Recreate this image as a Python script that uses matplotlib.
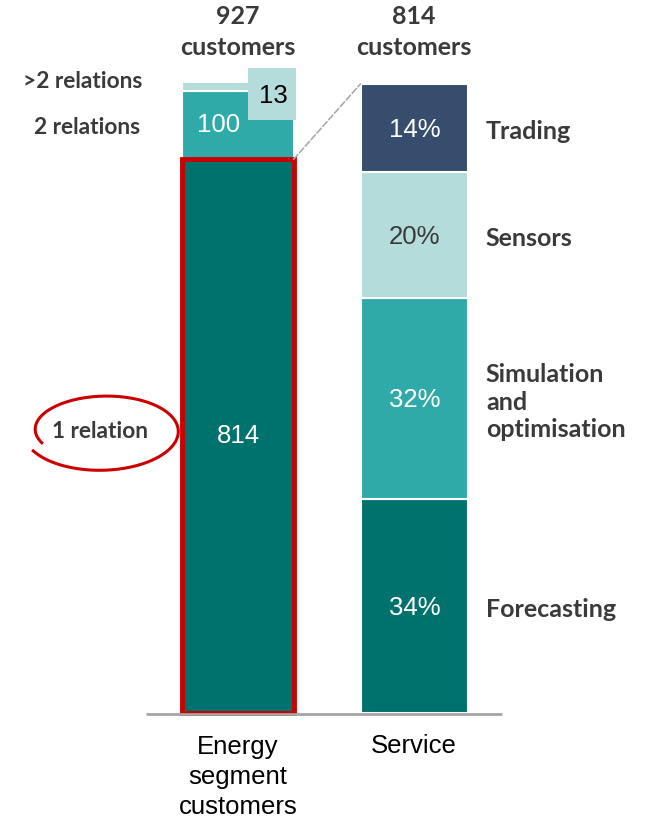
"""
Energy segment customers by number of relations, and service split
"""
import numpy as np
import matplotlib.pyplot as plt
from matplotlib.patches import Rectangle, ConnectionPatch

# left bar: customers by number of relations (bottom to top)
relation_labels = ['1 relation', '2 relations', '>2 relations']
relation_counts = [814, 100, 13]

# right bar: service share of the 814 single-relation customers (bottom to top)
service_labels = ['Forecasting', 'Simulation\nand\noptimisation', 'Sensors', 'Trading']
service_shares = [34, 32, 20, 14]

bar_names = ['Energy\nsegment\ncustomers', 'Service']
totals = ['927\ncustomers', '814\ncustomers']

DARK = '#00726E'
MID = '#2FAAA9'
LIGHT = '#B3DCDB'
NAVY = '#374D6E'
GREY_TXT = '#3A3A3A'
RED = '#CC0000'

LEFT_COLORS = [DARK, MID, LIGHT]
RIGHT_COLORS = [DARK, MID, LIGHT, NAVY]
RIGHT_TXT = ['white', 'white', GREY_TXT, 'white']

BOLD = dict(family='Lato', weight='bold', color=GREY_TXT, fontsize=18)
SMALL_BOLD = dict(BOLD, fontsize=16.3)
ARIAL = dict(family='Liberation Sans')
NUM_SIZE = 18.5

W, H = 649, 822
BAR_W = 0.63


def main():
    fig = plt.figure(figsize=(W / 100, H / 100), dpi=100)
    ax = fig.add_axes([146 / W, 109 / H, 356 / W, 653 / H])
    ax2 = ax.twinx()
    for a in (ax, ax2):
        a.set_xlim(-0.521, 1.496)
        a.axis('off')
    ax.set_ylim(0, 960)
    ax2.set_ylim(0, 103.8)

    # left stacked bar
    bottom = 0
    for val, col in zip(relation_counts, LEFT_COLORS):
        ax.bar(0, val, BAR_W, bottom=bottom, color=col, edgecolor='white', linewidth=1.5)
        bottom += val
    ax.text(0, relation_counts[0] / 2, str(relation_counts[0]), ha='center', va='center',
            color='white', fontsize=NUM_SIZE, **ARIAL)
    ax.text(-0.11, relation_counts[0] + relation_counts[1] / 2, str(relation_counts[1]),
            ha='center', va='center', color='white', fontsize=NUM_SIZE, **ARIAL)

    # red highlight around the single-relation block
    ax.add_patch(Rectangle((-BAR_W / 2, 0), BAR_W, relation_counts[0], fill=False,
                           edgecolor=RED, linewidth=3.5, clip_on=False, zorder=5))

    # right stacked bar
    bottom = 0
    for val, col, tc, lab in zip(service_shares, RIGHT_COLORS, RIGHT_TXT, service_labels):
        ax2.bar(1, val, BAR_W * 0.97, bottom=bottom, color=col, edgecolor='white', linewidth=1.5)
        ax2.text(1, bottom + val / 2 - 0.3, f'{val}%', ha='center', va='center', color=tc,
                 fontsize=NUM_SIZE, **ARIAL)
        ax2.text(1.405, bottom + val / 2 - 0.6, lab, ha='left', va='center',
                 linespacing=1.25, **BOLD)
        bottom += val

    # dashed connector from the 814 block to the service bar
    con = ConnectionPatch(xyA=(BAR_W / 2, relation_counts[0]), coordsA=ax.transData,
                          xyB=(1 - BAR_W * 0.97 / 2, sum(service_shares)), coordsB=ax2.transData,
                          color='#AAAAAA', linestyle='--', linewidth=1.2)
    fig.add_artist(con)

    # overlay in pixel coordinates for annotations
    ov = fig.add_axes([0, 0, 1, 1])
    ov.set_xlim(0, W)
    ov.set_ylim(H, 0)
    ov.axis('off')
    ov.patch.set_alpha(0)

    ov.plot([146, 502], [714, 714], color='#A6A6A6', linewidth=2, solid_capstyle='butt')

    ov.add_patch(Rectangle((248, 68), 48, 52, facecolor=LIGHT, edgecolor='none'))
    ov.text(273, 96, str(relation_counts[2]), ha='center', va='center', color='black',
            fontsize=NUM_SIZE, **ARIAL)

    ov.text(238, 32, totals[0], ha='center', va='center', linespacing=1.4, **BOLD)
    ov.text(414, 32, totals[1], ha='center', va='center', linespacing=1.4, **BOLD)

    ov.text(142, 82, relation_labels[2], ha='right', va='center', **SMALL_BOLD)
    ov.text(140, 127, relation_labels[1], ha='right', va='center', **SMALL_BOLD)
    ov.text(100, 431, relation_labels[0], ha='center', va='center', **SMALL_BOLD)

    # hand-drawn loop round "1 relation"
    t = np.linspace(3.55, -2.65, 200)
    frac = (3.55 - t) / 6.2
    rx = 70 + 8 * frac
    ry = 32 + 8 * frac
    cx = 106 - 4 * frac
    cy = 430 + 2 * frac
    ov.plot(cx + rx * np.cos(t), cy - ry * np.sin(t), color=RED, linewidth=2.2)

    ov.text(238, 777, bar_names[0], ha='center', va='center', linespacing=1.3,
            fontsize=18.5, color='black', **ARIAL)
    ov.text(414, 746, bar_names[1], ha='center', va='center', fontsize=18.5, color='black',
            **ARIAL)

    fig.savefig('out.png', dpi=100)


if __name__ == '__main__':
    main()
